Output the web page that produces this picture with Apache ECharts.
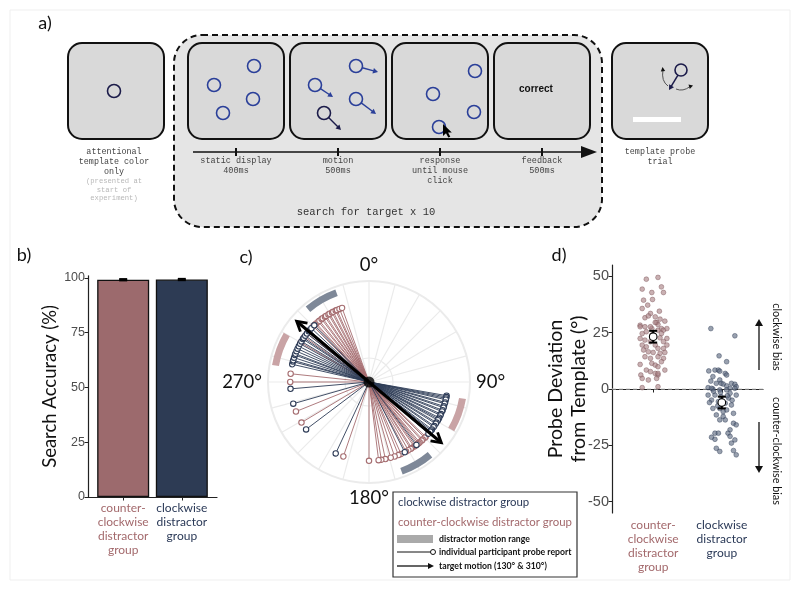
<!DOCTYPE html>
<html><head><meta charset="utf-8">
<script src="https://cdn.jsdelivr.net/npm/echarts@6/dist/echarts.min.js"></script>
<style>html,body{margin:0;padding:0;background:#fff}#c{width:800px;height:590px}</style>
</head><body><div id="c"></div>
<script>
// ---------------- DATA ----------------
const groupLabels = ['counter-\nclockwise\ndistractor\ngroup', 'clockwise\ndistractor\ngroup'];
const accuracyValues = [99.2, 99.3];
const accuracySE = [0.3, 0.3];
const accuracyTicks = [0, 25, 50, 75, 100];

const ccwRayAngles = [134,135,137,138,140,141,142,144,145,147,148,150,152,156,158,161,164,168,171,173,180,199,239,248,270,276,300,305,308,315,317,318,320,321,323,324,326,327,329,330,332,333,335,336,338,340];
const cwRayAngles = [100,101,102,103,105,106,108,109,111,112,114,115,117,118,119,121,122,124,125,127,128,129,131,143,153,205,233,254,265,283,285,286,288,290,291,293,295,297,299,301,303,304,306,308,310,311,313,316];
const rayLength = 0.78;
const ccwDistractorRanges = [[100,120],[280,300]];
const cwDistractorRanges = [[140,160],[320,340]];
const targetAngles = [130, 310];
const angleTickLabels = [0, 90, 180, 270];

const ccwDeviation = [48.7,49.5,44.3,45.3,42.8,42.8,39.4,39.7,37.2,35.7,33.5,34.5,31.6,32.4,32.0,31.0,28.3,27.6,26.8,29.5,28.6,30.1,29.5,27.6,27.6,26.8,26.1,26.8,24.6,25.4,23.9,26.1,24.6,22.4,22.4,21.7,21.0,22.7,21.0,19.5,19.5,18.7,19.5,18.0,18.0,17.3,16.5,16.2,15.8,16.2,14.3,13.6,14.3,13.6,10.9,11.4,10.6,9.9,12.1,6.2,8.4,7.7,6.9,6.2,8.4,4.7,4.0,4.7,6.9,0.6,1.0];
const ccwJitter = [-0.10,0.07,-0.16,0.12,-0.02,0.15,-0.14,-0.01,-0.08,-0.16,-0.04,0.09,-0.12,-0.07,0.03,0.10,-0.19,-0.12,-0.02,0.05,0.07,0.17,0.03,-0.19,-0.04,0.12,0.15,0.20,-0.16,-0.10,-0.02,0.07,0.12,0.20,-0.19,-0.12,-0.04,0.10,0.15,0.20,-0.16,-0.10,0.03,0.07,0.15,-0.14,-0.07,0.0,0.10,0.17,-0.12,-0.04,0.07,0.15,-0.19,-0.02,0.03,0.07,0.12,-0.18,-0.10,-0.04,0.03,0.07,0.17,-0.16,-0.07,0.05,0.07,-0.16,0.07];
const cwDeviation = [26.8,23.6,14.7,12.1,8.0,8.4,8.4,7.9,6.9,6.2,5.5,4.0,3.5,2.5,2.5,2.5,2.1,1.4,0.6,0.0,0.3,1.0,2.2,0.3,-0.4,-0.4,0.3,-2.7,-2.7,-3.4,-1.9,-2.7,-4.9,-5.6,-6.3,-7.1,-8.6,-8.6,-9.3,-10.8,-11.5,-12.2,-13.7,-13.7,-15.2,-15.9,-18.1,-19.6,-19.6,-19.6,-21.4,-22.3,-21.0,-24.0,-22.6,-26.3,-27.7,-27.3,-29.2,-1.0,-4.0,-7.5,-10.0,-5.0,-6.0,-3.0,-1.5];
const cwJitter = [-0.16,0.19,-0.04,0.07,-0.19,-0.10,-0.05,-0.03,0.05,0.07,-0.13,-0.03,-0.16,-0.08,-0.01,0.14,0.19,0.07,-0.20,-0.13,0.12,0.21,0.02,-0.15,-0.03,0.07,0.19,-0.20,-0.10,-0.01,0.12,0.21,-0.15,-0.05,0.05,0.14,-0.13,-0.03,0.07,0.17,-0.08,0.02,-0.03,0.05,0.17,0.21,0.12,0.09,-0.10,-0.05,-0.15,-0.10,0.12,0.14,0.19,-0.08,-0.03,0.17,0.21,-0.12,0.10,-0.06,0.02,0.15,-0.18,0.08,-0.02];
const deviationMeans = [23.2, -6.0];
const deviationSE = [2.6, 2.6];
const deviationTicks = [-50, -25, 0, 25, 50];

// ---------------- STYLE ----------------
const SANS = 'Lato', MONO = 'Liberation Mono', NUM = 'Liberation Sans';
const PINK = '#9c6a6d', NAVY = '#2d3b54';
const PINK_T = '#a3696c', NAVY_T = '#2a3957';
const PINK_L = '#a56d70', NAVY_L = '#2e3c57';
const BLUE = '#2a3f99', DARK = '#1c1c4a';

// ---------------- GRAPHIC HELPERS ----------------
const G = [];
function add(e){ G.push(e); }
function rr(x,y,w,h,r,fill,stroke,lw,dash){ add({type:'rect', shape:{x:x,y:y,width:w,height:h,r:r}, style:{fill:fill, stroke:stroke, lineWidth:lw, lineDash:dash||null}}); }
function ring(cx,cy,r,stroke,lw){ add({type:'circle', shape:{cx:cx,cy:cy,r:r}, style:{fill:'rgba(0,0,0,0)', stroke:stroke, lineWidth:lw}}); }
function seg(x1,y1,x2,y2,stroke,lw,dash){ add({type:'line', shape:{x1:x1,y1:y1,x2:x2,y2:y2}, style:{stroke:stroke, lineWidth:lw, lineDash:dash||null}}); }
function poly(pts,fill){ add({type:'polygon', shape:{points:pts}, style:{fill:fill}}); }
function headArrow(x1,y1,x2,y2,color,lw,hl,hw){
  const dx=x2-x1, dy=y2-y1, L=Math.hypot(dx,dy), ux=dx/L, uy=dy/L;
  const bx=x2-ux*hl, by=y2-uy*hl;
  seg(x1,y1,bx+ux*0.5,by+uy*0.5,color,lw);
  poly([[x2,y2],[bx-uy*hw,by+ux*hw],[bx+uy*hw,by-ux*hw]], color);
}
function dotArrow(cx,cy,tx,ty,color){
  ring(cx,cy,6.5,color,1.6);
  const dx=tx-cx, dy=ty-cy, L=Math.hypot(dx,dy);
  headArrow(cx+dx/L*6.5, cy+dy/L*6.5, tx, ty, color, 1.4, 5, 2.8);
}
function txt(x,y,s,size,color,opt,extra){
  add(Object.assign({type:'text', x:x, y:y, style:Object.assign({text:s, fontSize:size, fontFamily:SANS, fill:color, align:'center', verticalAlign:'middle'}, opt||{})}, extra||{}));
}
function mono(x,y,s,size,color){ txt(x,y,s,size,color,{fontFamily:MONO}); }

// outer frame
rr(10,10,780,570,0,'rgba(0,0,0,0)','#efefef',1);

// ---- panel a ----
txt(45,23,'a)',18,'#111');
rr(174,35,428,192,28,'#e5e5e5','#111',2,[6,4]);
const boxX = [68,188,290,392,494,612];
boxX.forEach(x => rr(x,43,96,96,14,'#d9d9d9','#111',2));
ring(114,91,6.5,DARK,1.6);
ring(254,66,6.5,BLUE,1.6); ring(214,85,6.5,BLUE,1.6); ring(253,99,6.5,BLUE,1.6); ring(223,113,6.5,BLUE,1.6);
dotArrow(356,66,378,72,BLUE); dotArrow(315,85,333,97,BLUE); dotArrow(356,99,376,114,BLUE); dotArrow(324,113,341,130,DARK);
ring(475,71,6.5,BLUE,1.6); ring(433,94,6.5,BLUE,1.6); ring(474,112,6.5,BLUE,1.6); ring(439,127,6.5,BLUE,1.6);
(function(){ const tx=443, ty=124; poly([[0,0],[0,12],[3,9.2],[5.3,13.6],[7.3,12.7],[5.1,8.4],[8.8,8.4]].map(p=>[tx+p[0],ty+p[1]]), '#000'); })();
txt(536,89,'correct',10,'#111',{fontFamily:NUM, fontWeight:'bold'});
ring(681,70,6,DARK,1.6);
headArrow(681-6*0.51,70+6*0.86,669,90,DARK,1.5,5,2.8);
add({type:'bezierCurve', shape:{x1:668,y1:86,x2:663,y2:70,cpx1:661,cpy1:81}, style:{stroke:'#444', lineWidth:0.9, fill:null}});
poly([[662.5,67],[660.8,71.5],[665.2,71]], '#111');
add({type:'bezierCurve', shape:{x1:676,y1:89,x2:690,y2:86.5,cpx1:683,cpy1:92}, style:{stroke:'#444', lineWidth:0.9, fill:null}});
poly([[693,85.5],[688.5,84.5],[689.8,89]], '#111');
rr(633,117,48,5,0,'#ffffff',null,0);
seg(193,152,583,152,'#111',1.5);
poly([[597,152],[581,146],[581,158]], '#111');
[236,338,440,542].forEach(x => seg(x,148,x,156,'#111',2));
mono(114,152,'attentional',8.4,'#444'); mono(114,162,'template color',8.4,'#444'); mono(114,172,'only',8.4,'#444');
mono(114,181.5,'(presented at',7.2,'#b8b8b8'); mono(114,190,'start of',7.2,'#b8b8b8'); mono(114,198.5,'experiment)',7.2,'#b8b8b8');
mono(236,161,'static display',8.5,'#444'); mono(236,171,'400ms',8.5,'#444');
mono(338,161,'motion',8.5,'#444'); mono(338,171,'500ms',8.5,'#444');
mono(440,161,'response',8.5,'#444'); mono(440,171,'until mouse',8.5,'#444'); mono(440,181,'click',8.5,'#444');
mono(542,161,'feedback',8.5,'#444'); mono(542,171,'500ms',8.5,'#444');
mono(660,152,'template probe',8.4,'#444'); mono(660,162,'trial',8.4,'#444');
mono(366,212,'search for target x 10',10.5,'#333');

// ---- panel labels ----
txt(24,255,'b)',18,'#111');
txt(246,257,'c)',18,'#111');
txt(559,255,'d)',18,'#111');

// ---- panel c legend ----
rr(393,492,184,85,0,'#ffffff','#333',1.2);
txt(398,502,'clockwise distractor group',11.4,NAVY_T,{align:'left'});
txt(398,522,'counter-clockwise distractor group',11.4,PINK_T,{align:'left'});
rr(397,535,36,8,0,'#aaaaaa',null,0);
txt(439,539,'distractor motion range',8.7,'#111',{align:'left', fontWeight:'bold'});
seg(397,552,430.5,552,'#111',1);
ring(433,552,2.5,'#111',1);
txt(439,552,'individual participant probe report',8.7,'#111',{align:'left', fontWeight:'bold'});
headArrow(397,566,434,566,'#111',1.3,6,3);
txt(439,566,'target motion (130° & 310°)',8.7,'#111',{align:'left', fontWeight:'bold'});

// ---- panel d annotations ----
headArrow(759,370,759,319,'#111',1.3,7,4);
headArrow(759,422,759,473,'#111',1.3,7,4);
txt(776,337,'clockwise bias',10.8,'#111',{},{rotation:-Math.PI/2});
txt(776,451,'counter-clockwise bias',10.8,'#111',{},{rotation:-Math.PI/2});

// ---------------- RENDERERS ----------------
function catLabel(v){
  const i = Math.round(v) - 1;
  const key = i === 0 ? 'p' : 'n';
  return groupLabels[i].split('\n').map(l => '{' + key + '|' + l + '}').join('\n');
}
const catRich = {
  p:{color:PINK_T, fontSize:12, lineHeight:14, fontFamily:SANS},
  n:{color:NAVY_T, fontSize:12, lineHeight:14, fontFamily:SANS}
};
function errRender(capW, withMean){
  return function(params, api){
    const x = api.value(0), m = api.value(1), se = api.value(2);
    const pt = api.coord([x,m]), hi = api.coord([x,m+se]), lo = api.coord([x,m-se]);
    const st = {stroke:'#000', lineWidth:2};
    const ch = [
      {type:'line', shape:{x1:hi[0],y1:hi[1],x2:lo[0],y2:lo[1]}, style:st},
      {type:'line', shape:{x1:hi[0]-capW,y1:hi[1],x2:hi[0]+capW,y2:hi[1]}, style:st},
      {type:'line', shape:{x1:lo[0]-capW,y1:lo[1],x2:lo[0]+capW,y2:lo[1]}, style:st}
    ];
    if (withMean) ch.push({type:'circle', shape:{cx:pt[0],cy:pt[1],r:3.8}, style:{fill:'#fff', stroke:'#000', lineWidth:1.1}});
    return {type:'group', children:ch};
  };
}
function zeroLineRender(params, api){
  const a = api.coord([api.value(0), api.value(1)]), b = api.coord([api.value(2), api.value(1)]);
  return {type:'line', shape:{x1:a[0],y1:a[1],x2:b[0],y2:b[1]}, style:{stroke:'#c8c8c8', lineWidth:1, lineDash:[4,3]}};
}
function arcRender(color){
  return function(params, api){
    const r = api.value(0), a0 = api.value(1), a1 = api.value(2);
    const c = api.coord([0,a0]), p = api.coord([r,a0]);
    const R = Math.hypot(p[0]-c[0], p[1]-c[1]);
    return {type:'sector', shape:{cx:c[0], cy:c[1], r0:R-3.5, r:R+3.5, startAngle:(a0-90)*Math.PI/180, endAngle:(a1-90)*Math.PI/180, clockwise:true}, style:{fill:color}};
  };
}
function rayLineRender(color){
  return function(params, api){
    const r = api.value(0), a = api.value(1);
    const c = api.coord([0,a]), p = api.coord([r,a]);
    return {type:'line', shape:{x1:c[0],y1:c[1],x2:p[0],y2:p[1]}, style:{stroke:color, lineWidth:1, opacity:0.9}};
  };
}
function rayEndRender(color){
  return function(params, api){
    const p = api.coord([api.value(0), api.value(1)]);
    return {type:'circle', shape:{cx:p[0], cy:p[1], r:2.7}, style:{fill:'#fff', stroke:color, lineWidth:1.1}};
  };
}
function targetArrowRender(params, api){
  const r = api.value(0), a = api.value(1);
  const c = api.coord([0,a]), p = api.coord([r,a]);
  const dx = p[0]-c[0], dy = p[1]-c[1], L = Math.hypot(dx,dy), ux = dx/L, uy = dy/L;
  const hl = 11, ang = 30*Math.PI/180;
  function back(s){ const cs=Math.cos(s*ang), sn=Math.sin(s*ang); const vx=ux*cs-uy*sn, vy=ux*sn+uy*cs; return [p[0]-vx*hl, p[1]-vy*hl]; }
  return {type:'group', children:[
    {type:'line', shape:{x1:c[0],y1:c[1],x2:p[0]-ux*1.5,y2:p[1]-uy*1.5}, style:{stroke:'#000', lineWidth:3}},
    {type:'polyline', shape:{points:[back(1), [p[0],p[1]], back(-1)]}, style:{stroke:'#000', lineWidth:2.8, fill:null, lineJoin:'miter'}}
  ]};
}

// ---------------- OPTION ----------------
const option = {
  backgroundColor:'#ffffff',
  animation:false,
  textStyle:{fontFamily:SANS},
  grid:[
    {left:88, top:275.8, width:129, height:221.2},
    {left:612, top:265, width:151, height:248}
  ],
  xAxis:[
    {gridIndex:0, type:'value', min:0.4, max:2.6,
     axisLine:{show:true, lineStyle:{color:'#222', width:1.2}},
     axisTick:{show:true, customValues:[1,2], length:3.5, lineStyle:{color:'#222'}},
     axisLabel:{customValues:[1,2], formatter:catLabel, rich:catRich, margin:4},
     splitLine:{show:false}},
    {gridIndex:1, type:'value', min:0.4, max:2.6,
     axisLine:{show:true, lineStyle:{color:'#222', width:1.2}},
     axisTick:{show:true, customValues:[1,2], length:3.5, lineStyle:{color:'#222'}},
     axisLabel:{customValues:[1,2], formatter:catLabel, rich:catRich, margin:5},
     splitLine:{show:false}}
  ],
  yAxis:[
    {gridIndex:0, type:'value', min:0, max:101,
     axisLine:{show:true, lineStyle:{color:'#222', width:1.2}},
     axisTick:{show:true, customValues:accuracyTicks, length:3.5, lineStyle:{color:'#222'}},
     axisLabel:{customValues:accuracyTicks, color:'#4d4d4d', fontSize:12.5, fontFamily:NUM, margin:3},
     splitLine:{show:false},
     name:'Search Accuracy (%)', nameLocation:'middle', nameGap:28, nameMoveOverlap:false,
     nameTextStyle:{fontSize:18.5, fontFamily:SANS, color:'#111'}},
    {gridIndex:1, type:'value', min:-55, max:55,
     axisLine:{show:true, lineStyle:{color:'#222', width:1.2}},
     axisTick:{show:true, customValues:deviationTicks, length:3.5, lineStyle:{color:'#222'}},
     axisLabel:{customValues:deviationTicks, color:'#4d4d4d', fontSize:14.5, fontFamily:NUM, margin:3},
     splitLine:{show:false},
     name:'Probe Deviation\nfrom Template (°)', nameLocation:'middle', nameGap:22, nameMoveOverlap:false,
     nameTextStyle:{fontSize:19.5, lineHeight:23, fontFamily:SANS, color:'#111', align:'center'}}
  ],
  polar:[{center:[369,382], radius:101}, {center:[369,382], radius:24}],
  angleAxis:[
    {polarIndex:0, type:'value', min:0, max:360, interval:15, startAngle:90, clockwise:true,
     axisLine:{show:true, lineStyle:{color:'#ebebeb', width:2}},
     axisTick:{show:false},
     splitLine:{show:true, lineStyle:{color:'#ebebeb', width:1.2}},
     axisLabel:{show:true, margin:6, fontSize:18.5, fontFamily:SANS, color:'#111',
       formatter:function(v){ return (angleTickLabels.indexOf(v) >= 0) ? v + '°' : ''; }}},
    {polarIndex:1, type:'value', min:0, max:360, startAngle:90, clockwise:true,
     axisLine:{show:true, lineStyle:{color:'#ebebeb', width:1.2}},
     axisTick:{show:false}, splitLine:{show:false}, axisLabel:{show:false}}
  ],
  radiusAxis:[
    {polarIndex:0, type:'value', min:0, max:1, axisLine:{show:false}, axisTick:{show:false}, axisLabel:{show:false}, splitLine:{show:false}},
    {polarIndex:1, type:'value', min:0, max:1, axisLine:{show:false}, axisTick:{show:false}, axisLabel:{show:false}, splitLine:{show:false}}
  ],
  series:[
    {type:'bar', xAxisIndex:0, yAxisIndex:0, barWidth:52,
     data: accuracyValues.map((v,i) => ({value:[i+1, v], itemStyle:{color: i===0 ? PINK : NAVY, borderColor:'#111', borderWidth:1.3}}))},
    {type:'custom', xAxisIndex:0, yAxisIndex:0, z:5, renderItem:errRender(4,false),
     data: accuracyValues.map((v,i) => [i+1, v, accuracySE[i]])},
    {type:'custom', xAxisIndex:1, yAxisIndex:1, z:1, renderItem:zeroLineRender, silent:true,
     data:[[0.4, 0, 2.6]]},
    {type:'scatter', xAxisIndex:1, yAxisIndex:1, symbolSize:4.8,
     itemStyle:{color:'rgba(170,132,135,0.8)', borderColor:'rgba(120,80,84,0.9)', borderWidth:0.6},
     data: ccwDeviation.map((v,i) => [1 + ccwJitter[i], v])},
    {type:'scatter', xAxisIndex:1, yAxisIndex:1, symbolSize:4.8,
     itemStyle:{color:'rgba(96,108,130,0.8)', borderColor:'rgba(40,54,80,0.9)', borderWidth:0.6},
     data: cwDeviation.map((v,i) => [2 + cwJitter[i], v])},
    {type:'custom', xAxisIndex:1, yAxisIndex:1, z:5, renderItem:errRender(4,true),
     data: deviationMeans.map((m,i) => [i+1, m, deviationSE[i]])},
    {type:'custom', coordinateSystem:'polar', polarIndex:0, renderItem:arcRender('#c9a3a5'),
     data: ccwDistractorRanges.map(r => [0.94, r[0], r[1]])},
    {type:'custom', coordinateSystem:'polar', polarIndex:0, renderItem:arcRender('#7e8898'),
     data: cwDistractorRanges.map(r => [0.94, r[0], r[1]])},
    {type:'custom', coordinateSystem:'polar', polarIndex:0, renderItem:rayLineRender(PINK_L),
     data: ccwRayAngles.map(a => [rayLength, a])},
    {type:'custom', coordinateSystem:'polar', polarIndex:0, renderItem:rayLineRender(NAVY_L),
     data: cwRayAngles.map(a => [rayLength, a])},
    {type:'custom', coordinateSystem:'polar', polarIndex:0, renderItem:rayEndRender(PINK_L),
     data: ccwRayAngles.map(a => [rayLength, a])},
    {type:'custom', coordinateSystem:'polar', polarIndex:0, renderItem:rayEndRender(NAVY_L),
     data: cwRayAngles.map(a => [rayLength, a])},
    {type:'custom', coordinateSystem:'polar', polarIndex:0, z:6, renderItem:targetArrowRender,
     data: targetAngles.map(a => [0.935, a])},
    {type:'scatter', coordinateSystem:'polar', polarIndex:0, z:7, symbolSize:11, itemStyle:{color:'#000'},
     data:[[0,0]]},
    {type:'scatter', coordinateSystem:'polar', polarIndex:0, z:7, symbolSize:1, itemStyle:{color:'rgba(0,0,0,0)'},
     label:{show:true, position:'inside', fontSize:13, fontFamily:SANS, color:'#111', formatter:function(p){ return p.value[2]; }},
     data: targetAngles.map(a => [1.06, a + (a > 180 ? 3.5 : 0.5), a + '°'])}
  ],
  graphic: G
};
const chart = echarts.init(document.getElementById('c'), null, {renderer:'canvas'});
chart.setOption(option);
</script>
</body></html>
